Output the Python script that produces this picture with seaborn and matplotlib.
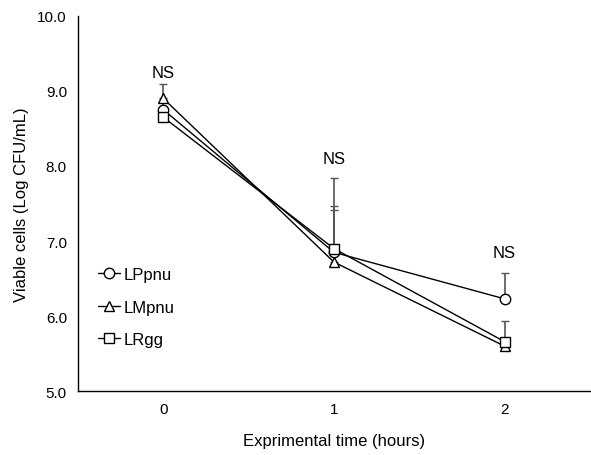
import matplotlib
matplotlib.use("Agg")
import matplotlib.pyplot as plt
from matplotlib.lines import Line2D
import numpy as np
import pandas as pd
import seaborn as sns

times = [0, 1, 2]
strains = ["LPpnu", "LMpnu", "LRgg"]
lppnu = [8.75, 6.85, 6.23]
lmpnu = [8.90, 6.72, 5.60]
lrgg = [8.65, 6.90, 5.66]
lppnu_err = [0.10, 0.99, 0.34]
lmpnu_err = [0.19, 0.69, 0.05]
lrgg_err = [0.10, 0.57, 0.27]
ns_labels = ["NS", "NS", "NS"]
ns_y = [9.25, 8.10, 6.85]

markers = {"LPpnu": "o", "LMpnu": "^", "LRgg": "s"}
values = {"LPpnu": lppnu, "LMpnu": lmpnu, "LRgg": lrgg}
errors = {"LPpnu": lppnu_err, "LMpnu": lmpnu_err, "LRgg": lrgg_err}

df = pd.DataFrame([
    {"time": t, "strain": s, "cfu": v, "err": e}
    for s in strains for t, v, e in zip(times, values[s], errors[s])
])

sns.set_style("white")
plt.rcParams["font.family"] = ["Liberation Sans", "DejaVu Sans"]
plt.rcParams.update({"text.color": "black", "axes.labelcolor": "black",
                     "xtick.color": "black", "ytick.color": "black"})

fig = plt.figure(figsize=(5.91, 4.56), dpi=100)
ax = fig.add_axes([0.132, 0.140, 0.866, 0.823])

# upward-only error bars, gray, under the markers
for s in strains:
    sub = df[df["strain"] == s]
    ax.errorbar(sub["time"], sub["cfu"], yerr=[np.zeros(len(sub)), sub["err"]],
                fmt="none", ecolor="#555555", elinewidth=1.2, capsize=3, zorder=1)

sns.lineplot(data=df, x="time", y="cfu", style="strain", markers=markers,
             dashes=False, color="black", linewidth=1.0, markersize=7.5,
             markerfacecolor="white", markeredgecolor="black", markeredgewidth=1.0,
             legend=False, ax=ax, zorder=3)

for t, lab, y in zip(times, ns_labels, ns_y):
    ax.text(t, y, lab, ha="center", va="center", fontsize=12)

ax.set_xlim(-0.5, 2.5)
ax.set_ylim(5.0, 10.0)
ax.set_xticks([-0.5, 0.5, 1.5, 2.5])
ax.set_xticklabels([])
ax.set_xticks(times, minor=True)
ax.set_xticklabels([str(t) for t in times], minor=True)
ax.tick_params(axis="x", which="minor", length=0, labelsize=11, pad=8)
ax.tick_params(axis="x", which="major", direction="in", length=5, width=1)
ax.set_yticks(np.arange(5.0, 10.01, 1.0))
ax.set_yticklabels([f"{v:.1f}" for v in np.arange(5.0, 10.01, 1.0)])
ax.tick_params(axis="y", direction="in", length=5, width=1, labelsize=11, pad=8)

for side in ["top", "right"]:
    ax.spines[side].set_visible(False)
for side in ["left", "bottom"]:
    ax.spines[side].set_color("black")
    ax.spines[side].set_linewidth(1.0)

ax.set_xlabel("Exprimental time (hours)", fontsize=12, labelpad=12)
ax.set_ylabel("Viable cells (Log CFU/mL)", fontsize=12, labelpad=6)

handles = [Line2D([], [], color="black", lw=1.0, marker=markers[s], markersize=7.5,
                  markerfacecolor="white", markeredgecolor="black") for s in strains]
ax.legend(handles, strains, loc="upper left", bbox_to_anchor=(0.01, 0.37),
          frameon=False, fontsize=12, labelspacing=1.05, handlelength=1.3,
          handletextpad=0.2)

fig.savefig("out.png", dpi=100)
